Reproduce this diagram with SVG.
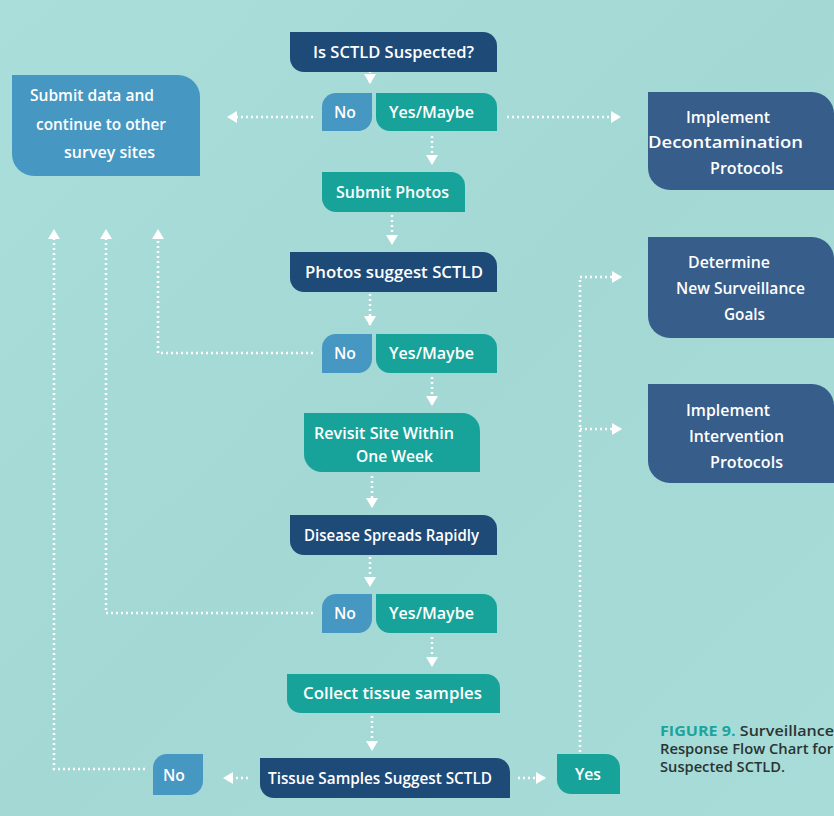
<svg xmlns="http://www.w3.org/2000/svg" width="834" height="816" viewBox="0 0 834 816">
<defs>
<linearGradient id="bg" x1="0" y1="0" x2="1" y2="1">
<stop offset="0" stop-color="#a9dedb"/>
<stop offset="0.5" stop-color="#a3d8d5"/>
<stop offset="1" stop-color="#a8dcd8"/>
</linearGradient>
<marker id="ah" viewBox="0 0 10 12" refX="9" refY="6" markerWidth="10" markerHeight="13" markerUnits="userSpaceOnUse" orient="auto">
<path d="M0,0 L10,6 L0,12 Z" fill="#ffffff"/>
</marker>
</defs>
<style>
.navy{fill:#1e4a78}
.slate{fill:#375d8a}
.blue{fill:#4697c2}
.teal{fill:#18a39a}
.t{font-family:"Open Sans","Liberation Sans",sans-serif;font-weight:600;font-size:16.5px;fill:#ffffff}
.tb{font-family:"Open Sans","Liberation Sans",sans-serif;font-weight:600;font-size:17px;fill:#ffffff}
.cap{font-family:"Open Sans","Liberation Sans",sans-serif;font-weight:600;font-size:14px;fill:#2a3434}
.capt{fill:#1aa59c;font-weight:700}
.c{fill:none;stroke:#ffffff;stroke-width:2.5;stroke-dasharray:2 3}
</style>
<rect x="0" y="0" width="834" height="816" fill="url(#bg)"/>

<g id="connectors">
<path class="c" d="M370,66 V83" marker-end="url(#ah)"/>
<path class="c" d="M313,117 H228" marker-end="url(#ah)"/>
<path class="c" d="M507,117 H620" marker-end="url(#ah)"/>
<path class="c" d="M432,136 V164" marker-end="url(#ah)"/>
<path class="c" d="M392,215 V244" marker-end="url(#ah)"/>
<path class="c" d="M370,294 V325" marker-end="url(#ah)"/>
<path class="c" d="M313,353 H158 V230" marker-end="url(#ah)"/>
<path class="c" d="M432,377 V405" marker-end="url(#ah)"/>
<path class="c" d="M372,476 V507" marker-end="url(#ah)"/>
<path class="c" d="M370,557 V586" marker-end="url(#ah)"/>
<path class="c" d="M313,613 H106 V230" marker-end="url(#ah)"/>
<path class="c" d="M432,637 V666" marker-end="url(#ah)"/>
<path class="c" d="M372,716 V750" marker-end="url(#ah)"/>
<path class="c" d="M248,778 H224" marker-end="url(#ah)"/>
<path class="c" d="M145,769 H54 V230" marker-end="url(#ah)"/>
<path class="c" d="M518,778 H545" marker-end="url(#ah)"/>
<path class="c" d="M580,752 V277 H621" marker-end="url(#ah)"/>
<path class="c" d="M580,429 H621" marker-end="url(#ah)"/>
</g>

<g id="n-suspected">
<path class="navy" d="M290,32 H483 A14,14 0 0 1 497,46 V72 H304 A14,14 0 0 1 290,58 Z"/>
<text class="t" x="313" y="58" textLength="161" lengthAdjust="spacingAndGlyphs">Is SCTLD Suspected?</text>
</g>
<g id="n-no1">
<path class="blue" d="M336,93 H372 V117 A14,14 0 0 1 358,131 H322 V107 A14,14 0 0 1 336,93 Z"/>
<text class="t" x="334" y="118" textLength="22" lengthAdjust="spacingAndGlyphs">No</text>
</g>
<g id="n-yes1">
<path class="teal" d="M376,93 H483 A14,14 0 0 1 497,107 V131 H390 A14,14 0 0 1 376,117 Z"/>
<text class="t" x="389" y="118" textLength="85" lengthAdjust="spacingAndGlyphs">Yes/Maybe</text>
</g>
<g id="n-submitdata">
<path class="blue" d="M12,75 H178 A22,22 0 0 1 200,97 V176 H34 A22,22 0 0 1 12,154 Z"/>
<text class="tb" x="30" y="101" textLength="124" lengthAdjust="spacingAndGlyphs">Submit data and</text>
<text class="tb" x="36" y="130" textLength="130" lengthAdjust="spacingAndGlyphs">continue to other</text>
<text class="tb" x="64" y="158" textLength="91" lengthAdjust="spacingAndGlyphs">survey sites</text>
</g>
<g id="n-decon">
<path class="slate" d="M648,92 H812 A22,22 0 0 1 834,114 V190 H670 A22,22 0 0 1 648,168 Z"/>
<text class="tb" x="686" y="123" textLength="84" lengthAdjust="spacingAndGlyphs">Implement</text>
<text class="tb" x="648" y="148" textLength="155" lengthAdjust="spacingAndGlyphs">Decontamination</text>
<text class="tb" x="710" y="174" textLength="73" lengthAdjust="spacingAndGlyphs">Protocols</text>
</g>
<g id="n-photos">
<path class="teal" d="M322,172 H451 A14,14 0 0 1 465,186 V212 H336 A14,14 0 0 1 322,198 Z"/>
<text class="t" x="336" y="198" textLength="113" lengthAdjust="spacingAndGlyphs">Submit Photos</text>
</g>
<g id="n-photossuggest">
<path class="navy" d="M290,252 H483 A14,14 0 0 1 497,266 V292 H304 A14,14 0 0 1 290,278 Z"/>
<text class="t" x="305" y="278" textLength="178" lengthAdjust="spacingAndGlyphs">Photos suggest SCTLD</text>
</g>
<g id="n-goals">
<path class="slate" d="M648,237 H812 A22,22 0 0 1 834,259 V338 H670 A22,22 0 0 1 648,316 Z"/>
<text class="tb" x="688" y="268" textLength="82" lengthAdjust="spacingAndGlyphs">Determine</text>
<text class="tb" x="676" y="294" textLength="129" lengthAdjust="spacingAndGlyphs">New Surveillance</text>
<text class="tb" x="724" y="320" textLength="41" lengthAdjust="spacingAndGlyphs">Goals</text>
</g>
<g id="n-no2">
<path class="blue" d="M336,334 H372 V359 A14,14 0 0 1 358,373 H322 V348 A14,14 0 0 1 336,334 Z"/>
<text class="t" x="334" y="359" textLength="22" lengthAdjust="spacingAndGlyphs">No</text>
</g>
<g id="n-yes2">
<path class="teal" d="M376,334 H483 A14,14 0 0 1 497,348 V373 H390 A14,14 0 0 1 376,359 Z"/>
<text class="t" x="389" y="359" textLength="85" lengthAdjust="spacingAndGlyphs">Yes/Maybe</text>
</g>
<g id="n-intervention">
<path class="slate" d="M648,384 H812 A22,22 0 0 1 834,406 V483 H670 A22,22 0 0 1 648,461 Z"/>
<text class="tb" x="686" y="416" textLength="84" lengthAdjust="spacingAndGlyphs">Implement</text>
<text class="tb" x="689" y="442" textLength="95" lengthAdjust="spacingAndGlyphs">Intervention</text>
<text class="tb" x="710" y="468" textLength="73" lengthAdjust="spacingAndGlyphs">Protocols</text>
</g>
<g id="n-revisit">
<path class="teal" d="M304,413 H462 A18,18 0 0 1 480,431 V472 H322 A18,18 0 0 1 304,454 Z"/>
<text class="t" x="314" y="439" textLength="140" lengthAdjust="spacingAndGlyphs">Revisit Site Within</text>
<text class="t" x="356" y="462" textLength="77" lengthAdjust="spacingAndGlyphs">One Week</text>
</g>
<g id="n-spreads">
<path class="navy" d="M290,515 H483 A14,14 0 0 1 497,529 V555 H304 A14,14 0 0 1 290,541 Z"/>
<text class="t" x="304" y="541" textLength="175" lengthAdjust="spacingAndGlyphs">Disease Spreads Rapidly</text>
</g>
<g id="n-no3">
<path class="blue" d="M336,594 H372 V619 A14,14 0 0 1 358,633 H322 V608 A14,14 0 0 1 336,594 Z"/>
<text class="t" x="334" y="619" textLength="22" lengthAdjust="spacingAndGlyphs">No</text>
</g>
<g id="n-yes3">
<path class="teal" d="M376,594 H483 A14,14 0 0 1 497,608 V633 H390 A14,14 0 0 1 376,619 Z"/>
<text class="t" x="389" y="619" textLength="85" lengthAdjust="spacingAndGlyphs">Yes/Maybe</text>
</g>
<g id="n-collect">
<path class="teal" d="M287,674 H486 A14,14 0 0 1 500,688 V713 H301 A14,14 0 0 1 287,699 Z"/>
<text class="t" x="303" y="699" textLength="179" lengthAdjust="spacingAndGlyphs">Collect tissue samples</text>
</g>
<g id="n-tissue">
<path class="navy" d="M260,758 H496 A14,14 0 0 1 510,772 V798 H274 A14,14 0 0 1 260,784 Z"/>
<text class="t" x="268" y="784" textLength="224" lengthAdjust="spacingAndGlyphs">Tissue Samples Suggest SCTLD</text>
</g>
<g id="n-no4">
<path class="blue" d="M167,754 H203 V781 A14,14 0 0 1 189,795 H153 V768 A14,14 0 0 1 167,754 Z"/>
<text class="t" x="163" y="781" textLength="22" lengthAdjust="spacingAndGlyphs">No</text>
</g>
<g id="n-yes4">
<path class="teal" d="M557,754 H606 A14,14 0 0 1 620,768 V794 H571 A14,14 0 0 1 557,780 Z"/>
<text class="t" x="575" y="780" textLength="26" lengthAdjust="spacingAndGlyphs">Yes</text>
</g>

<g id="caption">
<text class="cap" x="660" y="736" textLength="174" lengthAdjust="spacingAndGlyphs"><tspan class="capt">FIGURE 9.</tspan> Surveillance</text>
<text class="cap" x="660" y="754" textLength="173" lengthAdjust="spacingAndGlyphs">Response Flow Chart for</text>
<text class="cap" x="660" y="772" textLength="125" lengthAdjust="spacingAndGlyphs">Suspected SCTLD.</text>
</g>
</svg>
